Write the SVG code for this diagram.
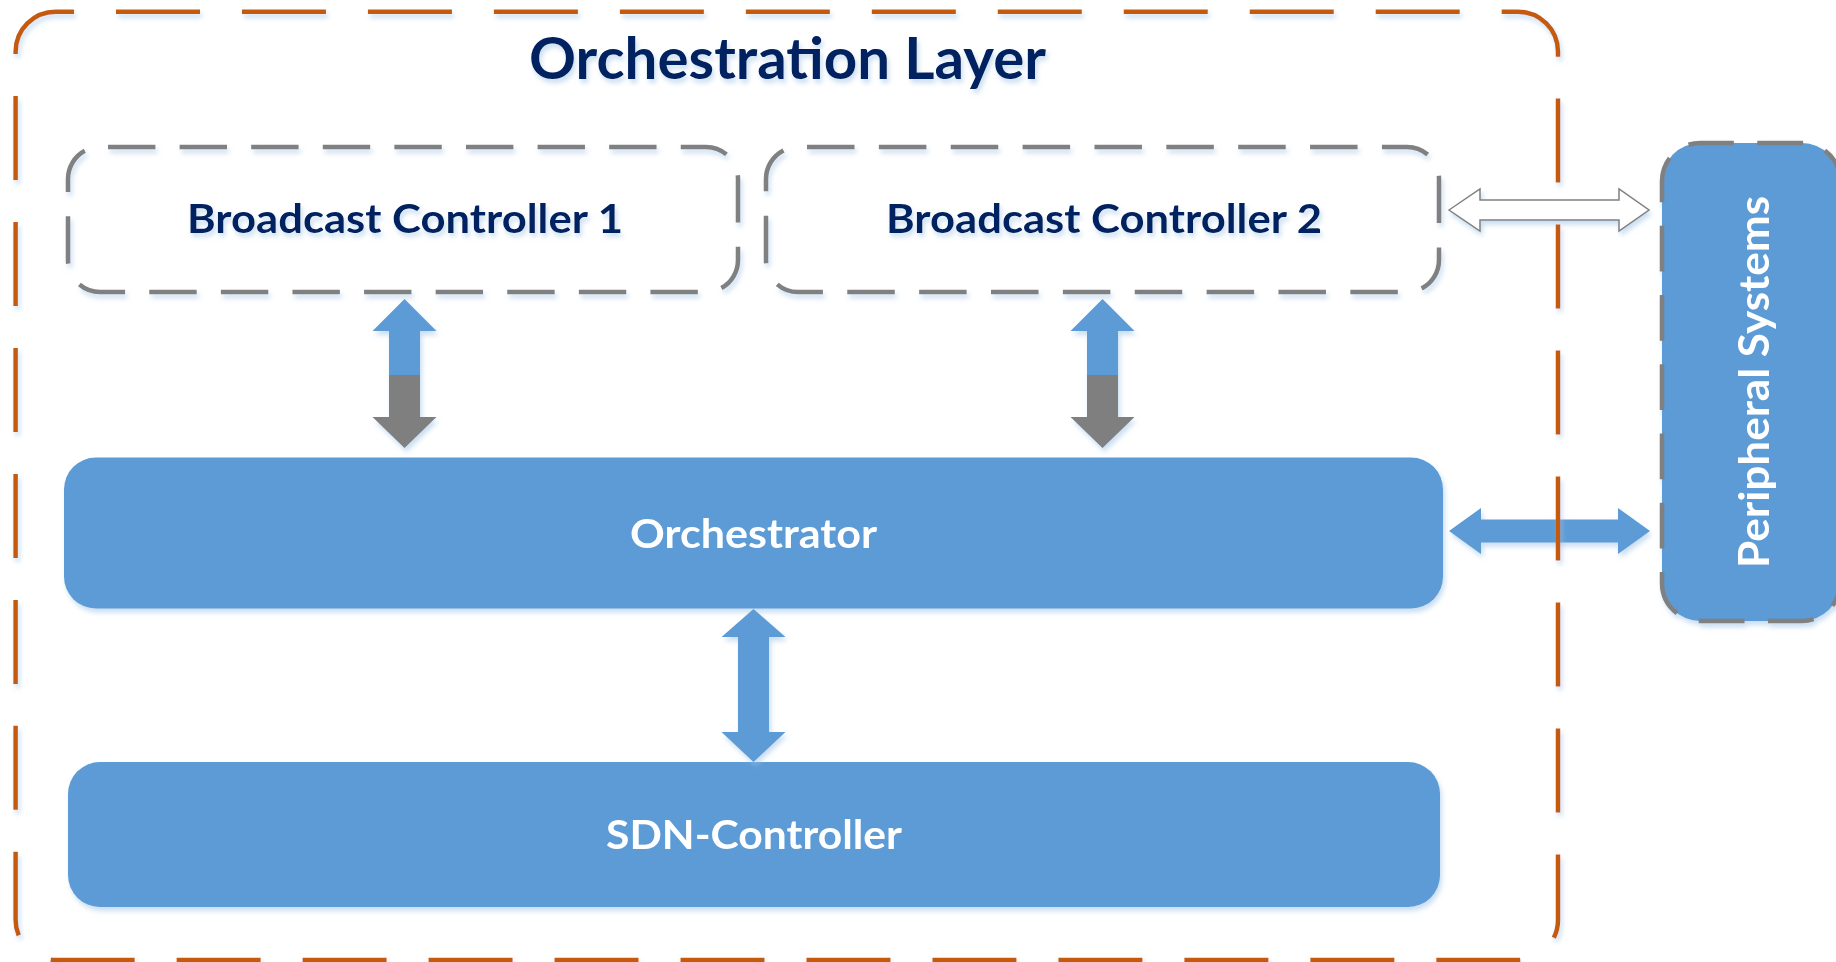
<svg xmlns="http://www.w3.org/2000/svg" width="1836" height="962" viewBox="0 0 1836 962">
  <defs>
    <style>
      .lbl { font-family: Lato, "Liberation Sans", sans-serif; font-weight: 700; }
      .navy { fill: #002060; }
      .white { fill: #FFFFFF; }
      .solid { fill: #5B9BD5; }
      .bcbox { fill: none; stroke: #808080; stroke-width: 4.5; }
      .outer { fill: none; stroke: #C55A11; stroke-width: 4.5; stroke-dasharray: 84 41.97; stroke-dashoffset: 65.57; }
    </style>
    <filter id="sh" filterUnits="userSpaceOnUse" x="0" y="0" width="1836" height="962">
      <feGaussianBlur in="SourceAlpha" stdDeviation="2.5"/>
      <feOffset dx="2" dy="4" result="b"/>
      <feFlood flood-color="#9DC3E6" flood-opacity="0.55"/>
      <feComposite in2="b" operator="in"/>
      <feMerge><feMergeNode/><feMergeNode in="SourceGraphic"/></feMerge>
    </filter>
    <linearGradient id="bluegray" x1="0" y1="0" x2="0" y2="1">
      <stop offset="0" stop-color="#5B9BD5"/>
      <stop offset="0.51" stop-color="#5B9BD5"/>
      <stop offset="0.51" stop-color="#7F7F7F"/>
      <stop offset="1" stop-color="#7F7F7F"/>
    </linearGradient>
  </defs>
  <rect width="1836" height="962" fill="#FFFFFF"/>

  <g id="bc1" filter="url(#sh)">
    <rect class="bcbox" x="68" y="147" width="670" height="145" rx="32" style="stroke-dasharray:47.4 24.194;stroke-dashoffset:63.594"/>
    <text class="lbl navy" x="405" y="233" font-size="40" text-anchor="middle" textLength="436" lengthAdjust="spacingAndGlyphs">Broadcast Controller 1</text>
  </g>

  <g id="bc2" filter="url(#sh)">
    <rect class="bcbox" x="766" y="147" width="673" height="145" rx="32" style="stroke-dasharray:47.5 24.366;stroke-dashoffset:62.866"/>
    <text class="lbl navy" x="1104" y="233" font-size="40" text-anchor="middle" textLength="436" lengthAdjust="spacingAndGlyphs">Broadcast Controller 2</text>
  </g>

  <g id="orchestrator" filter="url(#sh)">
    <rect class="solid" x="64" y="457.5" width="1379" height="151" rx="32"/>
    <text class="lbl white" x="753.5" y="548" font-size="40" text-anchor="middle" textLength="247" lengthAdjust="spacingAndGlyphs">Orchestrator</text>
  </g>

  <g id="sdn-controller" filter="url(#sh)">
    <rect class="solid" x="68" y="762" width="1372" height="145" rx="32"/>
    <text class="lbl white" x="754" y="849" font-size="40" text-anchor="middle" textLength="296" lengthAdjust="spacingAndGlyphs">SDN-Controller</text>
  </g>

  <g id="peripheral-systems" filter="url(#sh)">
    <rect class="solid" x="1662" y="143" width="178" height="478" rx="38"/>
    <rect class="bcbox" x="1662" y="143" width="178" height="478" rx="38" style="stroke-dasharray:45.85 23.414;stroke-dashoffset:12"/>
    <text class="lbl white" transform="translate(1769 382) rotate(-90)" x="0" y="0" font-size="42" text-anchor="middle" textLength="372" lengthAdjust="spacingAndGlyphs">Peripheral Systems</text>
  </g>

  <g id="connectors" filter="url(#sh)">
    <polygon fill="url(#bluegray)" points="404.5,299 436.5,331 420,331 420,417 436.5,417 404.5,448 372.5,417 389,417 389,331 372.5,331"/>
    <polygon fill="url(#bluegray)" points="1102.5,299 1134.5,331 1118,331 1118,417 1134.5,417 1102.5,448 1070.5,417 1087,417 1087,331 1070.5,331"/>
    <polygon fill="#5B9BD5" points="753.5,609 785.5,637 769,637 769,732 785.5,732 753.5,762 721.5,732 738,732 738,637 721.5,637"/>
    <polygon fill="#5B9BD5" points="1449,531 1481,508 1481,519.5 1618,519.5 1618,508 1650,531 1618,554 1618,542.5 1481,542.5 1481,554"/>
    <polygon fill="#FFFFFF" stroke="#808080" stroke-width="1.5" stroke-linejoin="miter" points="1449,210 1480,189 1480,200 1619,200 1619,189 1649,210 1619,231 1619,220 1480,220 1480,231"/>
  </g>

  <g id="orchestration-layer" filter="url(#sh)">
    <rect class="outer" x="15.6" y="11.7" width="1542.4" height="948.3" rx="40"/>
    <text class="lbl navy" x="787.5" y="79" font-size="57" text-anchor="middle" textLength="517" lengthAdjust="spacingAndGlyphs">Orchestration Layer</text>
  </g>
</svg>
